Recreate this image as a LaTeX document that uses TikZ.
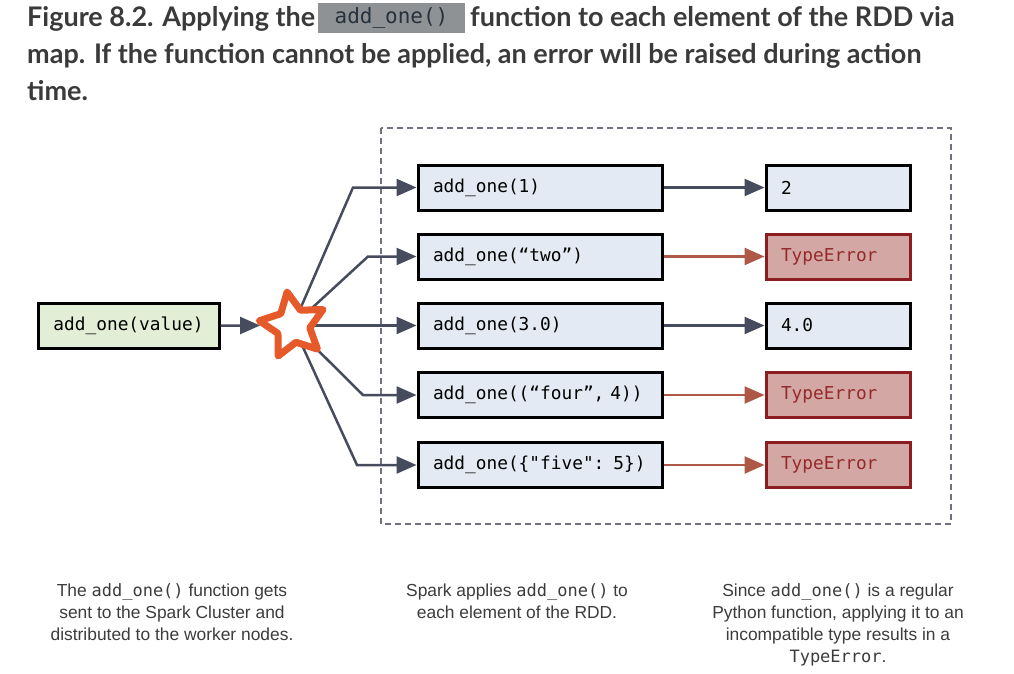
\documentclass[tikz,border=0pt]{standalone}
\usepackage{fontspec}
\setmainfont{Liberation Sans}
\setmonofont{DejaVu Sans Mono}
\newfontfamily\titlefont{Lato}
\usetikzlibrary{arrows.meta,positioning,shapes.geometric}

\definecolor{titlegray}{HTML}{3A3A3A}
\definecolor{hlgray}{HTML}{8F9294}
\definecolor{hltext}{HTML}{25313C}
\definecolor{greenfill}{HTML}{E2EFD6}
\definecolor{bluefill}{HTML}{E3EAF3}
\definecolor{errfill}{HTML}{D3A8A4}
\definecolor{errborder}{HTML}{8C1D20}
\definecolor{errtext}{HTML}{962A2A}
\definecolor{slate}{HTML}{474B5E}
\definecolor{redarrow}{HTML}{AE5846}
\definecolor{starorange}{HTML}{E55A28}
\definecolor{dashgray}{HTML}{70737F}
\definecolor{capgray}{HTML}{3C3C3C}

\newcommand{\boxfont}{\ttfamily\fontsize{17.8}{18}\selectfont}
\newcommand{\titlesize}{\titlefont\bfseries\fontsize{27}{27}\selectfont}
\newcommand{\code}[1]{{\ttfamily\fontsize{17}{22}\selectfont #1}}

\tikzset{
  fnbox/.style={draw=black,line width=3pt,fill=greenfill,minimum width=181pt,
    minimum height=45pt,font=\boxfont},
  callbox/.style={draw=black,line width=3pt,fill=bluefill,text width=214pt,
    inner xsep=15pt,minimum height=45pt,align=left,font=\boxfont},
  okbox/.style={draw=black,line width=3pt,fill=bluefill,text width=114pt,
    inner xsep=15pt,minimum height=45pt,align=left,font=\boxfont},
  errbox/.style={draw=errborder,line width=3pt,fill=errfill,text=errtext,
    text width=114pt,inner xsep=15pt,minimum height=45pt,align=left,font=\boxfont},
  conn/.style={draw=slate,line width=2.5pt,-{Triangle[length=20pt,width=17pt]}},
  errconn/.style={draw=redarrow,line width=2.5pt,-{Triangle[length=20pt,width=17pt]}},
  caption/.style={align=center,anchor=north,text=capgray,
    font=\fontsize{17.4}{22}\selectfont}
}

\begin{document}
\begin{tikzpicture}[x=1pt,y=-1pt]
  \useasboundingbox (0,0) rectangle (1014,674);

  % Title
  \node[anchor=base west,inner sep=0,text=titlegray,font=\titlesize]
    (t1a) at (27,27) {Figure 8.2. Applying the};
  \node[fill=hlgray,minimum width=147pt,minimum height=30pt,text=hltext,
    font=\ttfamily\fontsize{21}{21}\selectfont] (thl) at (391.5,18) {add\_one()};
  \node[anchor=base west,inner sep=0,text=titlegray,font=\titlesize]
    (t1b) at (470,27) {function to each element of the RDD via};
  \node[anchor=base west,inner sep=0,text=titlegray,font=\titlesize]
    (t2) at (27,64) {map. If the function cannot be applied, an error will be raised during action};
  \node[anchor=base west,inner sep=0,text=titlegray,font=\titlesize]
    (t3) at (27,101) {time.};

  % Worker area
  \draw[dashgray,line width=1.3pt,dash pattern=on 6pt off 4pt] (381,128) rectangle (951,524);

  % Boxes
  \node[fnbox] (fn) at (128.5,325.5) {add\_one(value)};

  \node[callbox] (call1) at (540,187.5) {add\_one(1)};
  \node[callbox] (call2) at (540,256.5) {add\_one(“two”)};
  \node[callbox] (call3) at (540,325.5) {add\_one(3.0)};
  \node[callbox] (call4) at (540,395) {add\_one((“four”, 4))};
  \node[callbox] (call5) at (540,465) {add\_one(\{"five": 5\})};

  \node[okbox]  (res1) at (838,187.5) {2};
  \node[errbox] (res2) at (838,256.5) {TypeError};
  \node[okbox]  (res3) at (838,325.5) {4.0};
  \node[errbox] (res4) at (838,395) {TypeError};
  \node[errbox] (res5) at (838,465) {TypeError};

  % Fan out from the star
  \coordinate (hub) at (293,325.5);
  \coordinate (k1) at (353,187.5);
  \coordinate (k2) at (368,256.5);
  \coordinate (k4) at (363,395);
  \coordinate (k5) at (357,465);
  \draw[conn] (hub) -- (k1) -- (call1.west);
  \draw[conn] (hub) -- (k2) -- (call2.west);
  \draw[conn] (hub) -- (call3.west);
  \draw[conn] (hub) -- (k4) -- (call4.west);
  \draw[conn] (hub) -- (k5) -- (call5.west);

  \node[star,star points=5,star point ratio=2.0,minimum size=68pt,rotate=10,
    draw=starorange,line width=7pt,line join=round,fill=white] (star) at (hub) {};
  \draw[conn] (fn.east) -- (star);

  % Results
  \draw[conn] (call1.east) -- (res1.west);
  \draw[errconn] (call2.east) -- (res2.west);
  \draw[conn] (call3.east) -- (res3.west);
  \draw[errconn] (call4.east) -- (res4.west);
  \draw[errconn] (call5.east) -- (res5.west);

  % Captions
  \node[caption] (cap1) at (172,580) {The \code{add\_one()} function gets\\sent to the Spark Cluster and\\distributed to the worker nodes.};
  \node[caption] (cap2) at (517,580) {Spark applies \code{add\_one()} to\\each element of the RDD.};
  \node[caption] (cap3) at (838,580) {Since \code{add\_one()} is a regular\\Python function, applying it to an\\incompatible type results in a\\\code{TypeError}.};
\end{tikzpicture}
\end{document}
